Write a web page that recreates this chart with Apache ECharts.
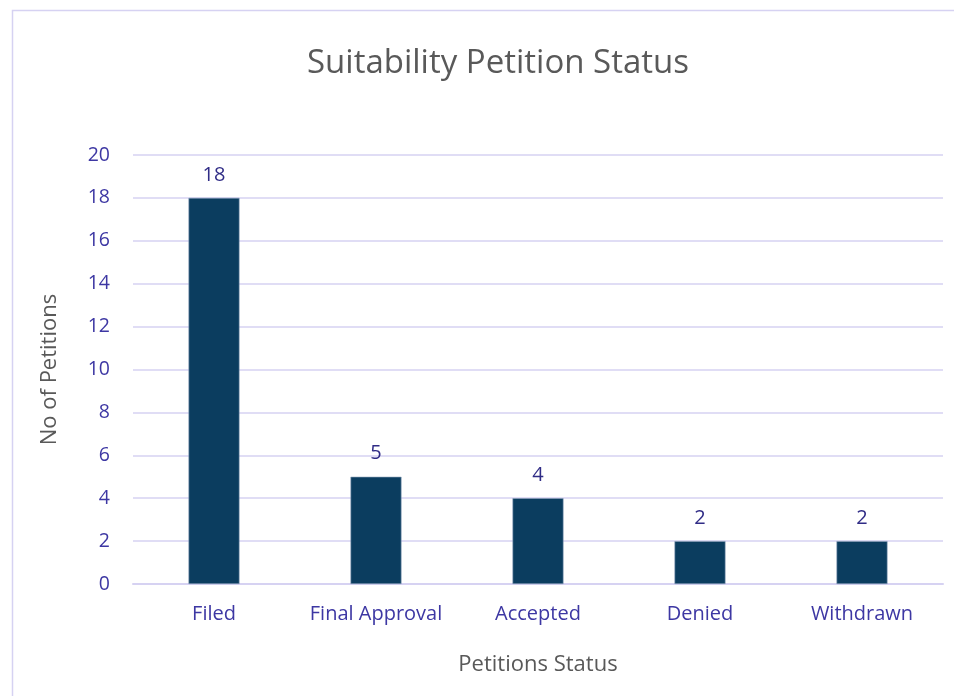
<!DOCTYPE html>
<html>
<head>
<meta charset="utf-8">
<script src="https://cdn.jsdelivr.net/npm/echarts@6/dist/echarts.min.js"></script>
<style>
    html, body {margin: 0; padding: 0; background: #fff;}
    #chart_1 {width: 954px; height: 696px;}
</style>
</head>
<body>
<div id="chart_1"></div>
<script>
var categories = ['Filed', 'Final Approval', 'Accepted', 'Denied', 'Withdrawn'];
var petitions = [18, 5, 4, 2, 2];
var yTicks = {min: 0, max: 20, interval: 2};

var labelColor = '#3d37a3';
var font = 'Open Sans';

var myChart = echarts.init(document.getElementById('chart_1'));
var option = {
    animation: false,
    backgroundColor: '#fff',
    title: {
        text: 'Suitability Petition Status',
        left: 302,
        top: 42,
        textStyle: {
            color: '#595959',
            fontFamily: font,
            fontWeight: 'normal',
            fontSize: 33
        }
    },
    // outer chart border, cut off at right and bottom like the screenshot
    graphic: [{
        type: 'rect',
        shape: {x: 12.5, y: 10.5, width: 1000, height: 800},
        style: {fill: 'none', stroke: '#d6d2f2', lineWidth: 1.5},
        silent: true
    }],
    grid: {
        left: 133,
        right: 11,
        top: 155,
        bottom: 112
    },
    xAxis: {
        type: 'category',
        data: categories,
        name: 'Petitions Status',
        nameLocation: 'middle',
        nameGap: 70,
        nameTextStyle: {color: '#595959', fontFamily: font, fontSize: 22},
        axisLine: {lineStyle: {color: '#d6d2f2', width: 2}},
        axisTick: {show: false},
        axisLabel: {color: labelColor, fontFamily: font, fontSize: 20, margin: 20, interval: 0, hideOverlap: false}
    },
    yAxis: {
        type: 'value',
        min: yTicks.min,
        max: yTicks.max,
        interval: yTicks.interval,
        name: 'No of Petitions',
        nameLocation: 'middle',
        nameGap: 72,
        nameRotate: 90,
        nameTextStyle: {color: '#595959', fontFamily: font, fontSize: 22},
        axisLine: {show: false},
        axisTick: {show: false},
        axisLabel: {color: labelColor, fontFamily: font, fontSize: 19.5, margin: 23},
        splitLine: {lineStyle: {color: '#d6d2f2', width: 1.5}}
    },
    series: [
        {
            name: 'Petitions',
            type: 'bar',
            data: petitions,
            barWidth: 51,
            itemStyle: {color: '#0b3d5f', borderColor: '#8aa0b8', borderWidth: 0.6},
            label: {
                show: true,
                position: 'top',
                distance: 13,
                color: '#302c86',
                fontFamily: font,
                fontSize: 20
            }
        }
    ]
};

myChart.setOption(option);
</script>
</body>
</html>
